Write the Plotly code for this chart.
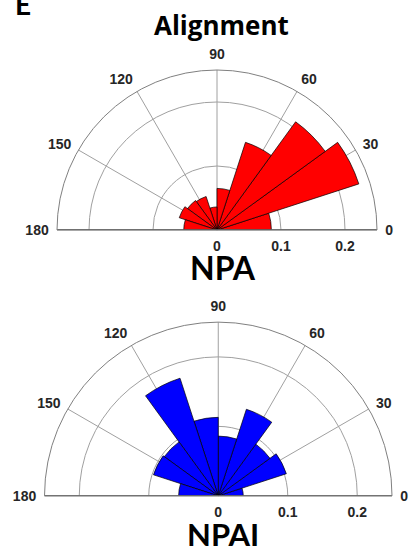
import plotly.graph_objects as go

# ---- data ----
bin_centers = [9, 27, 45, 63, 81, 99, 117, 135, 153, 171]   # degrees, 18-degree bins
bin_width = 18
npa_prob = [0.085, 0.233, 0.209, 0.144, 0.065, 0.036, 0.055, 0.057, 0.062, 0.052]
npai_prob = [0.036, 0.103, 0.092, 0.131, 0.086, 0.113, 0.178, 0.096, 0.098, 0.057]
angle_ticks = [0, 30, 60, 90, 120, 150, 180]
r_ticks = [0, 0.1, 0.2]
r_ticktext = ["0", "0.1", "0.2"]
r_max = 0.25

W, H = 410, 550
TICK_FONT = dict(family="Liberation Sans, Arial", size=14, color="#262626", weight="bold")
GRID = "#a0a0a0"

fig = go.Figure()

def add_rose(values, color, subplot):
    fig.add_trace(go.Barpolar(
        r=values, theta=bin_centers, width=[bin_width] * len(values),
        marker=dict(color=color, line=dict(color="black", width=0.7)),
        subplot=subplot, showlegend=False, hoverinfo="skip"))
    # base line (0 - 180 diameter)
    fig.add_trace(go.Scatterpolar(
        r=[r_max, 0, r_max], theta=[180, 0, 0], mode="lines",
        line=dict(color="#3c3c3c", width=1.5),
        subplot=subplot, showlegend=False, hoverinfo="skip"))

add_rose(npa_prob, "#ff0000", "polar")
add_rose(npai_prob, "#0000ff", "polar2")

def polar_layout(xdom, ydom):
    return dict(
        domain=dict(x=xdom, y=ydom),
        sector=[0, 180],
        bgcolor="white",
        angularaxis=dict(
            direction="counterclockwise", rotation=0,
            tickmode="array", tickvals=angle_ticks,
            ticktext=[str(a) for a in angle_ticks],
            tickfont=TICK_FONT,
            ticks="outside", ticklen=5, tickcolor="rgba(0,0,0,0)",
            showgrid=True, gridcolor=GRID, gridwidth=1,
            showline=True, linecolor="#808080", linewidth=1,
        ),
        radialaxis=dict(
            range=[0, r_max], angle=0, side="clockwise",
            tickmode="array", tickvals=r_ticks, ticktext=r_ticktext,
            tickfont=TICK_FONT, tickangle=0,
            ticks="outside", ticklen=4, tickcolor="rgba(0,0,0,0)",
            showgrid=True, gridcolor=GRID, gridwidth=1,
            showline=False,
        ),
    )

def px_dom(x0, x1, ytop, ybot):
    return [x0 / W, x1 / W], [(H - ybot) / H, (H - ytop) / H]

xd1, yd1 = px_dom(57, 377, 70, 230)
xd2, yd2 = px_dom(44.5, 392, 322, 496)

TITLE_FONT = "Lato, Calibri, Carlito, sans-serif"
fig.update_layout(
    width=W, height=H,
    margin=dict(l=0, r=0, t=0, b=0),
    paper_bgcolor="white",
    polar=polar_layout(xd1, yd1),
    polar2=polar_layout(xd2, yd2),
    annotations=[
        dict(text="<b>E</b>", x=13 / W, y=(H - 23) / H, xref="paper", yref="paper",
             xanchor="left", yanchor="bottom", showarrow=False,
             font=dict(family=TITLE_FONT, size=28, color="black")),
        dict(text="<b>Alignment</b>", x=221 / W, y=(H - 25) / H, xref="paper", yref="paper",
             xanchor="center", yanchor="middle", showarrow=False,
             font=dict(family="Open Sans, sans-serif", size=26, color="black")),
        dict(text="<b>NPA</b>", x=222.5 / W, y=(H - 267) / H, xref="paper", yref="paper",
             xanchor="center", yanchor="middle", showarrow=False,
             font=dict(family=TITLE_FONT, size=32, color="black")),
        dict(text="<b>NPAI</b>", x=223 / W, y=(H - 534) / H, xref="paper", yref="paper",
             xanchor="center", yanchor="middle", showarrow=False,
             font=dict(family=TITLE_FONT, size=31, color="black")),
    ],
)

fig.write_html("out.html", config={"displayModeBar": False},
               post_script="document.body.style.margin='0px';document.body.style.overflow='hidden';")
